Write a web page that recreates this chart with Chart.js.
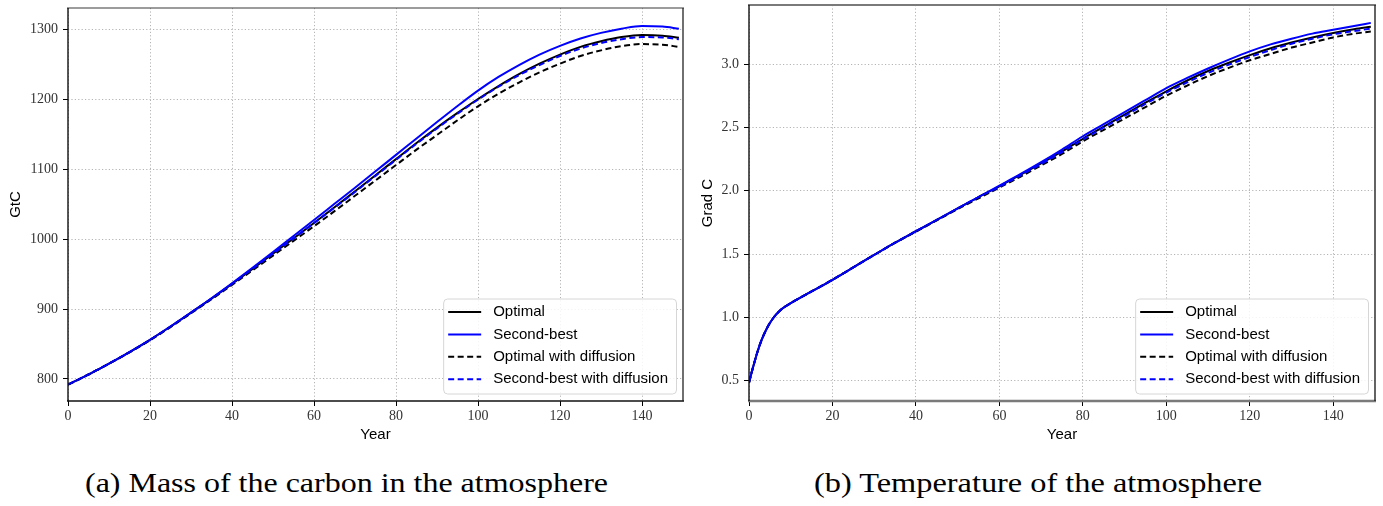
<!DOCTYPE html>
<html><head><meta charset="utf-8">
<script src="https://cdn.jsdelivr.net/npm/chart.js@4.4.1/dist/chart.umd.min.js"></script>
<style>
html,body{margin:0;padding:0;background:#fff;width:1383px;height:506px;overflow:hidden;}
#c1{position:absolute;left:0;top:0;}
#c2{position:absolute;left:690px;top:0;}
.cap{position:absolute;font-family:"Liberation Serif",serif;font-size:27px;line-height:27px;color:#000;white-space:nowrap;transform-origin:0 0;}
</style></head><body>
<canvas id="c1" width="695" height="460"></canvas>
<canvas id="c2" width="693" height="460"></canvas>
<div class="cap" id="capA" style="left:85px;top:470px">(a) Mass of the carbon in the atmosphere</div>
<div class="cap" id="capB" style="left:814px;top:470px">(b) Temperature of the atmosphere</div>
<script>
const years = [0,1,2,3,4,5,6,7,8,10,12,15,20,25,30,35,40,45,50,55,60,65,70,75,80,85,90,95,100,105,110,115,120,125,130,135,140,145,149];
const seriesLabels = ['Optimal','Second-best','Optimal with diffusion','Second-best with diffusion'];

const carbonOptimal = [792,794.8,797.6,800.5,803.4,806.4,809.4,812.5,815.6,822,828.5,838.5,856,875,895,915,936,957.5,979.3,1001,1023,1045.5,1068.5,1091.5,1114.5,1137.5,1159.5,1180.5,1200.5,1219,1236,1251,1264,1275,1283,1289,1292,1291,1288];
const carbonSecondBest = [792,794.8,797.6,800.5,803.4,806.4,809.4,812.5,815.6,822,828.5,838.5,856,875,895,915.5,937,959,981.5,1004.5,1027.5,1050.5,1073.5,1097,1120.5,1144,1167.5,1190.5,1212.5,1232,1249,1264,1276.5,1287,1295,1301,1305,1304,1301];
const carbonOptimalDiff = [792,794.8,797.6,800.5,803.4,806.4,809.4,812.5,815.6,822,828.3,838,855.3,874.2,894,914,934.5,955.5,976.5,997.5,1018.5,1040,1062,1084,1106,1128,1149,1170,1190,1208,1224,1238.5,1251,1262,1270,1276,1279,1278,1275];
const carbonSecondBestDiff = [792,794.8,797.6,800.5,803.4,806.4,809.4,812.5,815.6,822,828.5,838.5,856,875,895,915,936,957.5,979.3,1001,1023,1045,1067.5,1090.5,1113.5,1136.5,1158.5,1179.5,1199.5,1218,1234.5,1249,1262,1272.5,1280.5,1286,1289,1288.5,1286];

const tempOptimal = [0.485,0.61,0.725,0.82,0.895,0.955,1.003,1.04,1.07,1.112,1.15,1.205,1.297,1.395,1.493,1.59,1.68,1.77,1.86,1.95,2.035,2.125,2.215,2.31,2.41,2.505,2.60,2.695,2.785,2.87,2.945,3.01,3.07,3.125,3.17,3.21,3.245,3.275,3.295];
const tempSecondBest = [0.485,0.61,0.725,0.82,0.895,0.955,1.003,1.04,1.07,1.112,1.15,1.205,1.297,1.395,1.493,1.59,1.68,1.77,1.86,1.95,2.04,2.13,2.225,2.325,2.43,2.525,2.62,2.715,2.81,2.89,2.965,3.035,3.10,3.155,3.20,3.24,3.27,3.30,3.325];
const tempOptimalDiff = [0.485,0.61,0.725,0.82,0.895,0.955,1.003,1.04,1.07,1.112,1.15,1.205,1.297,1.395,1.493,1.588,1.677,1.766,1.855,1.94,2.025,2.11,2.20,2.29,2.39,2.48,2.57,2.66,2.75,2.83,2.905,2.97,3.03,3.08,3.13,3.17,3.21,3.24,3.256];
const tempSecondBestDiff = [0.485,0.61,0.725,0.82,0.895,0.955,1.003,1.04,1.07,1.112,1.15,1.205,1.297,1.395,1.493,1.59,1.68,1.77,1.86,1.95,2.03,2.12,2.21,2.305,2.405,2.50,2.59,2.685,2.775,2.855,2.93,2.995,3.055,3.11,3.16,3.20,3.235,3.26,3.28];

const yearTicks = [0,20,40,60,80,100,120,140];
const carbonTicks = [800,900,1000,1100,1200,1300];
const tempTicks = [0.5,1.0,1.5,2.0,2.5,3.0];

const DASH = [6,3.5];
function makeDatasets(arrs){
  const styles = [
    {c:'#000000', d:[]},
    {c:'#0000ff', d:[]},
    {c:'#000000', d:DASH},
    {c:'#0000ff', d:DASH}
  ];
  return arrs.map((a,i)=>({
    label: seriesLabels[i],
    data: years.map((x,j)=>({x:x, y:a[j]})),
    borderColor: styles[i].c,
    backgroundColor: styles[i].c,
    borderDash: styles[i].d,
    borderWidth: 2,
    pointRadius: 0,
    fill: false,
    cubicInterpolationMode: 'monotone',
    order: 4 - i
  }));
}

const frameLegend = {
  id: 'frameLegend',
  afterDatasetsDraw(chart, args, o){
    const ctx = chart.ctx, ca = chart.chartArea;
    ctx.save();
    ctx.setLineDash([]);
    const side = (s, x1,y1,x2,y2)=>{ctx.beginPath();ctx.strokeStyle=s.color;ctx.lineWidth=s.width;ctx.moveTo(x1,y1);ctx.lineTo(x2,y2);ctx.stroke();};
    side(o.frame.top, ca.left-1, ca.top, ca.right+1, ca.top);
    side(o.frame.bottom, ca.left-1, ca.bottom, ca.right+1, ca.bottom);
    side(o.frame.left, ca.left, ca.top, ca.left, ca.bottom);
    side(o.frame.right, ca.right, ca.top, ca.right, ca.bottom);
    ctx.restore();
  },
  afterDraw(chart, args, o){
    const ctx = chart.ctx, ca = chart.chartArea;
    const ds = chart.data.datasets;
    ctx.save();
    ctx.font = '15px "Liberation Sans", Arial, sans-serif';
    let maxW = 0;
    ds.forEach(d=>{maxW = Math.max(maxW, ctx.measureText(d.label).width);});
    const w = 50 + maxW + 8, h = o.legH;
    const right = ca.right - o.offR, bottom = ca.bottom - o.offB;
    const left = right - w, top = bottom - h;
    ctx.beginPath();
    ctx.roundRect(left+0.5, top+0.5, w, h, 4);
    ctx.fillStyle = 'rgba(255,255,255,0.85)';
    ctx.fill();
    ctx.strokeStyle = '#d6d6d6';
    ctx.lineWidth = 1;
    ctx.stroke();
    ds.forEach((d,i)=>{
      const y = top + 13.5 + i*22.4;
      ctx.beginPath();
      ctx.setLineDash(d.borderDash||[]);
      ctx.strokeStyle = d.borderColor;
      ctx.lineWidth = 2;
      ctx.moveTo(left+5, y); ctx.lineTo(left+38, y);
      ctx.stroke();
      ctx.setLineDash([]);
      ctx.fillStyle = '#000';
      ctx.textBaseline = 'middle';
      ctx.textAlign = 'left';
      ctx.fillText(d.label, left+50, y);
    });
    ctx.restore();
  }
};

const tickFont = {family:'"Liberation Serif", serif', size:14};
const titleFont = {family:'"Liberation Sans", Arial, sans-serif', size:15};
const gridOpts = {color:'#b4b4b4', lineWidth:1, tickLength:5, tickColor:'#000', tickWidth:1, tickBorderDash:[0,0]};
const borderOpts = {display:false, dash:[1.2,2.2]};

function makeChart(id, arrs, yMin, yMax, yTickVals, yFmt, yTitle, yWidth, pad, titlePad, frame){
  return new Chart(document.getElementById(id), {
    type: 'line',
    data: { datasets: makeDatasets(arrs) },
    plugins: [frameLegend],
    options: {
      responsive: false,
      animation: false,
      devicePixelRatio: 1,
      layout: { padding: pad },
      plugins: {
        legend: {display:false},
        tooltip: {enabled:false},
        frameLegend: { frame: frame, offR: 7, offB: 7.5, legH: 95 }
      },
      scales: {
        x: {
          type: 'linear', min: 0, max: 150,
          afterBuildTicks: s => { s.ticks = yearTicks.map(v=>({value:v})); },
          afterFit: s => { s.height = 59; s.paddingLeft = 0; s.paddingRight = 0; },
          ticks: { font: tickFont, color:'#333', padding: 2, maxRotation: 0, autoSkip:false, callback: v => String(v) },
          grid: gridOpts,
          border: borderOpts,
          title: { display:true, text:'Year', font:titleFont, color:'#000', padding:{top:0, bottom:16} }
        },
        y: {
          type: 'linear', min: yMin, max: yMax,
          afterBuildTicks: s => { s.ticks = yTickVals.map(v=>({value:v})); },
          afterFit: s => { s.width = yWidth; s.paddingTop = 0; s.paddingBottom = 0; },
          ticks: { font: tickFont, color:'#333', padding: 5, autoSkip:false, callback: yFmt },
          grid: gridOpts,
          border: borderOpts,
          title: { display:true, text:yTitle, font:titleFont, color:'#000', padding:{top:titlePad, bottom:0} }
        }
      }
    }
  });
}

makeChart('c1', [carbonOptimal, carbonSecondBest, carbonOptimalDiff, carbonSecondBestDiff],
  768.5, 1330.6, carbonTicks, v => String(v), 'GtC', 68, {top:8, right:12, bottom:0, left:0}, 7,
  {top:{color:'#3a3a3a',width:1.2}, bottom:{color:'#111',width:1.4}, left:{color:'#111',width:1.4}, right:{color:'#222',width:1.3}});

makeChart('c2', [tempOptimal, tempSecondBest, tempOptimalDiff, tempSecondBestDiff],
  0.34, 3.466, tempTicks, v => Number(v).toFixed(1), 'Grad C', 59, {top:5, right:8, bottom:0, left:0}, 8.8,
  {top:{color:'#7a7a7a',width:2.2}, bottom:{color:'#7a7a7a',width:2.4}, left:{color:'#111',width:1.4}, right:{color:'#222',width:1.4}});

function fitCap(id, target){
  const el = document.getElementById(id);
  el.style.transform = 'none';
  const w = el.getBoundingClientRect().width;
  if (w > 0) el.style.transform = 'scaleX(' + (target / w) + ')';
}
fitCap('capA', 523);
fitCap('capB', 448);
</script>
</body></html>
